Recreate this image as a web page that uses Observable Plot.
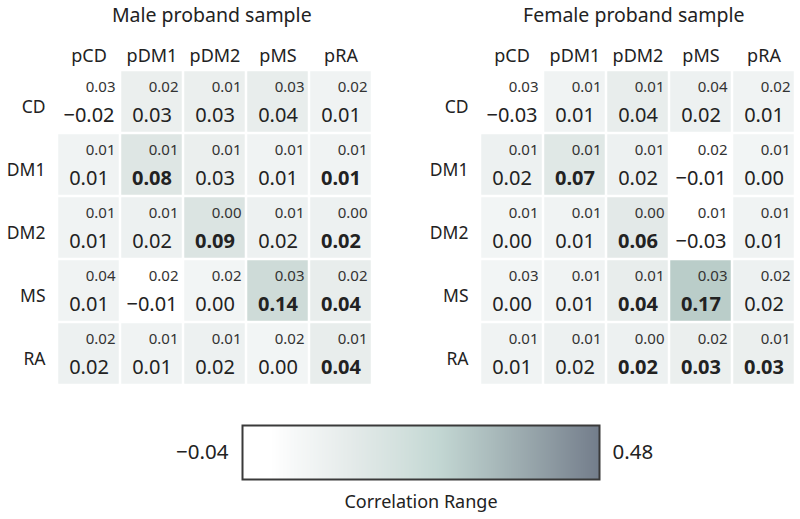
<!DOCTYPE html>
<html>
<head>
<meta charset="utf-8">
<script src="https://cdn.jsdelivr.net/npm/d3@7"></script>
<script src="https://cdn.jsdelivr.net/npm/@observablehq/plot@0.6"></script>
<style>
  body { margin: 0; background: #fff; }
  #chart { position: relative; width: 800px; height: 519px; background: #fff; overflow: hidden; }
  #chart > div { position: absolute; }
  svg { overflow: visible; }
</style>
</head>
<body>
<div id="chart">
  <div id="male" style="left:0;top:0"></div>
  <div id="female" style="left:400px;top:0"></div>
  <div id="bar" style="left:0;top:410px"></div>
</div>
<script>
const rows = ["CD", "DM1", "DM2", "MS", "RA"];
const cols = ["pCD", "pDM1", "pDM2", "pMS", "pRA"];

const maleValues = [
  [-0.02, 0.03, 0.03, 0.04, 0.01],
  [0.01, 0.08, 0.03, 0.01, 0.01],
  [0.01, 0.02, 0.09, 0.02, 0.02],
  [0.01, -0.01, 0.00, 0.14, 0.04],
  [0.02, 0.01, 0.02, 0.00, 0.04]
];
const maleSE = [
  [0.03, 0.02, 0.01, 0.03, 0.02],
  [0.01, 0.01, 0.01, 0.01, 0.01],
  [0.01, 0.01, 0.00, 0.01, 0.00],
  [0.04, 0.02, 0.02, 0.03, 0.02],
  [0.02, 0.01, 0.01, 0.02, 0.01]
];
const maleBold = [
  [0, 0, 0, 0, 0],
  [0, 1, 0, 0, 1],
  [0, 0, 1, 0, 1],
  [0, 0, 0, 1, 1],
  [0, 0, 0, 0, 1]
];

const femaleValues = [
  [-0.03, 0.01, 0.04, 0.02, 0.01],
  [0.02, 0.07, 0.02, -0.01, 0.00],
  [0.00, 0.01, 0.06, -0.03, 0.01],
  [0.00, 0.01, 0.04, 0.17, 0.02],
  [0.01, 0.02, 0.02, 0.03, 0.03]
];
const femaleSE = [
  [0.03, 0.01, 0.01, 0.04, 0.02],
  [0.01, 0.01, 0.01, 0.02, 0.01],
  [0.01, 0.01, 0.00, 0.01, 0.01],
  [0.03, 0.01, 0.01, 0.03, 0.02],
  [0.01, 0.01, 0.00, 0.02, 0.01]
];
const femaleBold = [
  [0, 0, 0, 0, 0],
  [0, 1, 0, 0, 0],
  [0, 0, 1, 0, 0],
  [0, 0, 1, 1, 0],
  [0, 0, 1, 1, 1]
];

const titles = ["Male proband sample", "Female proband sample"];
const legendTitle = "Correlation Range";
const legendLabels = ["\u22120.04", "0.48"];
const legendDomain = [-0.04, 0.48];

const FONT = "'Noto Sans', 'Open Sans', sans-serif";
const fmt = d3.format(".2f");

// colour scale for the cells
const cellColor = {
  type: "linear",
  domain: [-0.005, 0, 0.04, 0.09, 0.14, 0.17, 0.48],
  range: ["#ffffff", "#f2f5f5", "#e8edec", "#dbe4e2", "#cedbd8", "#bacdc9", "#6e7886"],
  clamp: true
};

function toData(values, se, bold) {
  const out = [];
  rows.forEach((r, i) => cols.forEach((c, j) => {
    out.push({row: r, col: c, v: values[i][j], se: se[i][j], bold: !!bold[i][j]});
  }));
  return out;
}

function panel(data, title, marginLeft, marginRight, titleDx) {
  return Plot.plot({
    width: 400,
    height: 400,
    marginTop: 69,
    marginBottom: 13.5,
    marginLeft,
    marginRight,
    x: {domain: cols, padding: 0, axis: null, label: null},
    y: {domain: rows, padding: 0, axis: null, label: null},
    color: cellColor,
    style: {fontFamily: FONT, background: "transparent", color: "#222"},
    marks: [
      Plot.cell(data, {x: "col", y: "row", fill: "v", inset: 1.25}),
      Plot.text(data, {x: "col", y: "row", text: d => fmt(d.se), textAnchor: "end", dx: 26.5, dy: -15, fontSize: 15, fill: "#333"}),
      Plot.text(data, {filter: d => !d.bold, x: "col", y: "row", text: d => fmt(d.v), dy: 14, fontSize: 20, fill: "#222"}),
      Plot.text(data, {filter: d => d.bold, x: "col", y: "row", text: d => fmt(d.v), dy: 14, fontSize: 20, fontWeight: "bold", fill: "#222"}),
      Plot.axisX({anchor: "top", label: null, tickSize: 0, tickPadding: 8, fontSize: 18, fill: "#222"}),
      Plot.axisY({anchor: "left", label: null, tickSize: 0, tickPadding: 10, fontSize: 17.5, dy: 5, fill: "#222"}),
      Plot.text([title], {frameAnchor: "top", lineAnchor: "middle", dy: -54, dx: titleDx, text: d => d, fontSize: 19.5, fill: "#222"})
    ]
  });
}

document.getElementById("male").appendChild(
  panel(toData(maleValues, maleSE, maleBold), titles[0], 55, 26.5, -3)
);
document.getElementById("female").appendChild(
  panel(toData(femaleValues, femaleSE, femaleBold), titles[1], 78, 3.5, -4)
);

// colour bar legend
const bar = Plot.plot({
  width: 800,
  height: 109,
  marginLeft: 242,
  marginRight: 201,
  marginTop: 15,
  marginBottom: 40,
  x: {domain: legendDomain, axis: null},
  y: {domain: [0, 1], axis: null},
  color: {
    type: "linear",
    domain: [-0.04, 0.0016, 0.038, 0.116, 0.194, 0.246, 0.324, 0.402, 0.48],
    range: ["#ffffff", "#ffffff", "#f6f8f8", "#e5ebea", "#d2e0dd", "#c3d7d3", "#aabbbc", "#909da4", "#737d8b"]
  },
  style: {fontFamily: FONT, background: "transparent", color: "#222"},
  marks: [
    Plot.raster({fill: (x, y) => x, x1: legendDomain[0], x2: legendDomain[1], y1: 0, y2: 1, width: 357, height: 1}),
    Plot.frame({stroke: "#3a3a3a", strokeWidth: 2}),
    Plot.text([legendLabels[0]], {frameAnchor: "left", textAnchor: "end", dx: -14, text: d => d, fontSize: 20.5, fill: "#222"}),
    Plot.text([legendLabels[1]], {frameAnchor: "right", textAnchor: "start", dx: 13, text: d => d, fontSize: 20.5, fill: "#222"}),
    Plot.text([legendTitle], {frameAnchor: "bottom", lineAnchor: "middle", dy: 23, text: d => d, fontSize: 18, fill: "#222"})
  ]
});
document.getElementById("bar").appendChild(bar);
</script>
</body>
</html>
